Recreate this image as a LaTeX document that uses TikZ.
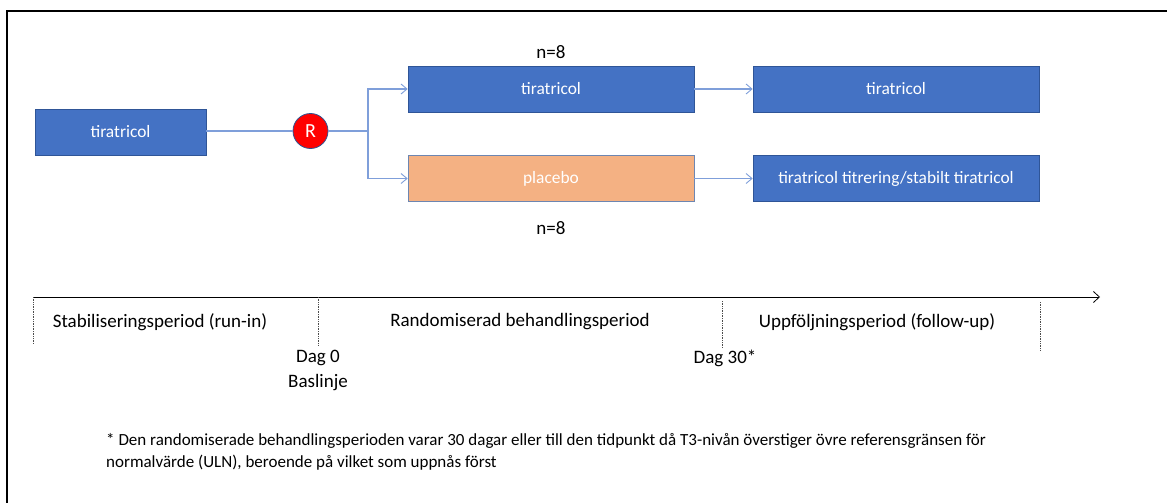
\documentclass[tikz,border=0pt]{standalone}
\usepackage{fontspec}
\setmainfont{Carlito}
\usetikzlibrary{arrows.meta}
\definecolor{boxblue}{HTML}{4472C4}
\definecolor{boxedge}{HTML}{2F5597}
\definecolor{boxorange}{HTML}{F4B183}
\definecolor{conn}{HTML}{7F9FDA}
\definecolor{circedge}{HTML}{2F528F}
\tikzset{
  bluebox/.style={draw=boxedge, line width=0.6pt, fill=boxblue, text=white, minimum width=286pt, minimum height=46pt, inner sep=0pt, font=\fontsize{17.4}{20}\selectfont},
  orangebox/.style={bluebox, fill=boxorange, draw=circedge!70},
  connector/.style={draw=conn, line width=1.2pt},
  arrowconn/.style={connector, -{Straight Barb[length=6pt,width=10pt,line width=0.9pt]}},
  lbl/.style={font=\fontsize{19}{22}\selectfont, text=black, inner sep=0pt},
  tick/.style={densely dotted, draw=black!70, line width=0.7pt},
}
\begin{document}
\begin{tikzpicture}[x=1pt,y=-1pt]
\useasboundingbox (0,0) rectangle (1167,503);
% frame
\draw[line width=2.5pt] (7,503) -- (7,11) -- (1167,11);

% nodes
\node[bluebox, minimum width=171pt] (run) at (120.5,132) {tiratricol};
\node[circle, fill=red, draw=circedge, line width=0.8pt, minimum size=35pt, inner sep=0pt, text=white, font=\fontsize{20}{22}\selectfont] (R) at (310.5,131) {R};
\coordinate (split) at (368,131);
\node[bluebox] (tA) at (551,89) {tiratricol};
\node[orangebox] (pl) at (551,178.5) {placebo};
\node[bluebox] (tB) at (896,89) {tiratricol};
\node[bluebox] (tC) at (896,178.5) {tiratricol titrering/stabilt tiratricol};
\node[lbl] (n1) at (551,52) {n=8};
\node[lbl] (n2) at (551,228) {n=8};

% connectors
\draw[connector] (run.east |- R) -- (R.west);
\draw[connector] (R.east) -- (split);
\draw[arrowconn] (split) |- (tA.west);
\draw[arrowconn] (split) |- (pl.west);
\draw[arrowconn] (tA) -- (tB);
\draw[arrowconn] (pl) -- (tC);

% timeline
\coordinate (t0) at (33,297);
\coordinate (tend) at (1100,297);
\draw[line width=0.9pt, -{Straight Barb[length=6pt,width=11pt,line width=0.8pt]}] (t0) -- (tend);
\draw[tick] (33,297) -- (33,343);
\draw[tick] (318,297) -- (318,345);
\draw[tick] (722,301) -- (722,348);
\draw[tick] (1040,302) -- (1040,350);

\node[lbl] (p1) at (160,322) {Stabiliseringsperiod (run-in)};
\node[lbl] (p2) at (520,322) {Randomiserad behandlingsperiod};
\node[lbl] (p3) at (877,322) {Uppföljningsperiod (follow-up)};
\node[lbl] (d0) at (318,358) {Dag 0};
\node[lbl] (bl) at (318,383) {Baslinje};
\node[lbl] (d30) at (725,358) {Dag 30*};

\node[lbl, anchor=west, align=left, font=\fontsize{17}{22}\selectfont] (fn) at (106,452) {* Den randomiserade behandlingsperioden varar 30 dagar eller till den tidpunkt då T3-nivån överstiger övre referensgränsen för\\normalvärde (ULN), beroende på vilket som uppnås först};
\end{tikzpicture}
\end{document}
